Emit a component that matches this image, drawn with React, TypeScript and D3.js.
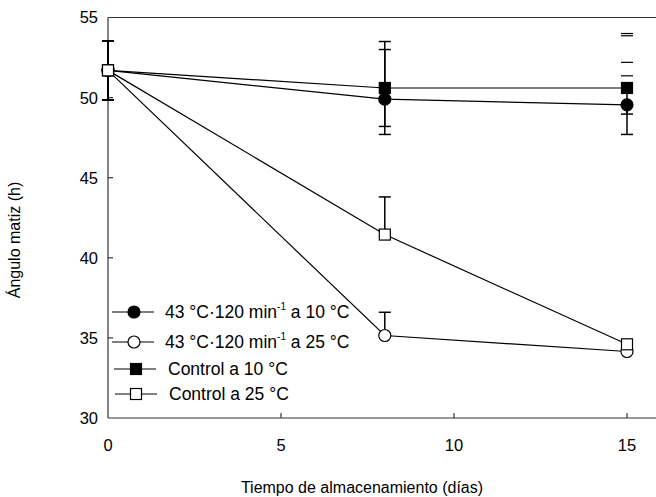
import React from "react";
import * as d3 from "d3";

const days = [0, 8, 15];
const heat10 = [51.7, 49.9, 49.55];
const heat25 = [51.7, 35.15, 34.15];
const control10 = [51.7, 50.6, 50.6];
const control25 = [51.7, 41.45, 34.6];

// error bars: [day, low, high]
const heat10Err = [[0, 49.85, 53.55], [8, 48.2, 53.0], [15, 47.7, 49.55]];
const heat25Err = [[0, 49.85, 53.55], [8, 35.15, 36.6]];
const control10Err = [[0, 49.85, 53.55], [8, 47.7, 53.5], [15, 48.97, 50.6]];
const control25Err = [[0, 49.85, 53.55], [8, 41.45, 43.8]];
const day15UpperCaps = [54.0, 53.86, 52.2, 51.36];

const xTicks = [0, 5, 10, 15];
const yTicks = [30, 35, 40, 45, 50, 55];
const legendLabels = ["43 °C·120 min", "43 °C·120 min", "Control a 10 °C", "Control a 25 °C"];

const W = 656;
const H = 497;
const FONT = "'Liberation Sans', Arial, sans-serif";

export default function App() {
  const x = d3.scaleLinear().domain([0, 15]).range([108, 627]);
  const y = d3.scaleLinear().domain([30, 55]).range([418, 17.5]);
  const line = d3
    .line<number>()
    .x((_, i) => x(days[i]))
    .y((d) => y(d));

  const series = [
    { vals: heat10, err: heat10Err, shape: "circle", fill: "#000" },
    { vals: control10, err: control10Err, shape: "square", fill: "#000" },
    { vals: heat25, err: heat25Err, shape: "circle", fill: "#fff" },
    { vals: control25, err: control25Err, shape: "square", fill: "#fff" },
  ];

  const marker = (shape: string, fill: string, cx: number, cy: number, key: string) =>
    shape === "circle" ? (
      <circle key={key} cx={cx} cy={cy} r={6} fill={fill} stroke="#000" strokeWidth={1.2} />
    ) : (
      <rect key={key} x={cx - 5.5} y={cy - 5.5} width={11} height={11} fill={fill} stroke="#000" strokeWidth={1.2} />
    );

  const cap = 6;

  const legend = [
    { shape: "circle", fill: "#000", cy: 312, lx1: 112, lx2: 154, mx: 134, tx: 165, sup: true, suffix: " a 10 °C" },
    { shape: "circle", fill: "#fff", cy: 342, lx1: 112, lx2: 154, mx: 134, tx: 165, sup: true, suffix: " a 25 °C" },
    { shape: "square", fill: "#000", cy: 369, lx1: 114, lx2: 156, mx: 136, tx: 168, sup: false, suffix: "" },
    { shape: "square", fill: "#fff", cy: 394, lx1: 115, lx2: 157, mx: 136, tx: 169, sup: false, suffix: "" },
  ];

  return (
    <div style={{ position: "absolute", left: 0, top: 0 }}>
      <svg width={W} height={H} style={{ display: "block", background: "#fff" }} fontFamily={FONT}>
        {/* frame */}
        <line x1={108} x2={W} y1={y(55)} y2={y(55)} stroke="#333" strokeWidth={1.2} />
        <line x1={108} x2={W} y1={y(30)} y2={y(30)} stroke="#333" strokeWidth={1.2} />
        <line x1={108} x2={108} y1={y(55)} y2={y(30)} stroke="#333" strokeWidth={1.2} />

        {/* ticks */}
        {yTicks.map((t) => (
          <g key={"y" + t}>
            {t !== 30 && t !== 55 && (
              <line x1={108} x2={113} y1={y(t)} y2={y(t)} stroke="#333" strokeWidth={1.2} />
            )}
            <text x={98} y={y(t)} dy="0.36em" textAnchor="end" fontSize={16.5} fill="#000">
              {t}
            </text>
          </g>
        ))}
        {xTicks.map((t) => (
          <g key={"x" + t}>
            {t !== 0 && <line x1={x(t)} x2={x(t)} y1={y(30)} y2={y(30) - 5} stroke="#333" strokeWidth={1.2} />}
            <text x={x(t)} y={451} textAnchor="middle" fontSize={16.5} fill="#000">
              {t}
            </text>
          </g>
        ))}

        {/* axis titles */}
        <text x={362} y={493} textAnchor="middle" fontSize={16} fill="#000">
          Tiempo de almacenamiento (días)
        </text>
        <text
          transform={`translate(20,${240}) rotate(-90)`}
          textAnchor="middle"
          fontSize={16}
          fill="#000"
        >
          Ángulo matiz (h)
        </text>

        {/* error bars */}
        {series.map((s, si) =>
          s.err.map(([d, lo, hi], i) => (
            <g key={"e" + si + "-" + i} stroke="#000" strokeWidth={1.5}>
              <line x1={x(d)} x2={x(d)} y1={y(lo)} y2={y(hi)} />
              {lo !== s.vals[days.indexOf(d)] && <line x1={x(d) - cap} x2={x(d) + cap} y1={y(lo)} y2={y(lo)} />}
              {hi !== s.vals[days.indexOf(d)] && <line x1={x(d) - cap} x2={x(d) + cap} y1={y(hi)} y2={y(hi)} />}
            </g>
          ))
        )}
        {day15UpperCaps.map((v, i) => (
          <line key={"c" + i} x1={x(15) - cap} x2={x(15) + cap} y1={y(v)} y2={y(v)} stroke="#000" strokeWidth={1.2} />
        ))}

        {/* lines */}
        {series.map((s, si) => (
          <path key={"l" + si} d={line(s.vals) || ""} fill="none" stroke="#000" strokeWidth={1.2} />
        ))}
        {/* markers */}
        {series.map((s, si) => s.vals.map((v, i) => marker(s.shape, s.fill, x(days[i]), y(v), "m" + si + "-" + i)))}

        {/* legend */}
        {legend.map((l, i) => (
          <g key={"lg" + i}>
            <line x1={l.lx1} x2={l.lx2} y1={l.cy} y2={l.cy} stroke="#000" strokeWidth={1.2} />
            {marker(l.shape, l.fill, l.mx, l.cy, "lm" + i)}
            <text x={l.tx} y={l.cy} dy="0.36em" fontSize={17.5} fill="#000">
              {legendLabels[i]}
              {l.sup && (
                <tspan fontSize={10} dy="-0.8em">
                  -1
                </tspan>
              )}
              {l.sup && <tspan dy="0.45em">{l.suffix}</tspan>}
            </text>
          </g>
        ))}
      </svg>
    </div>
  );
}
